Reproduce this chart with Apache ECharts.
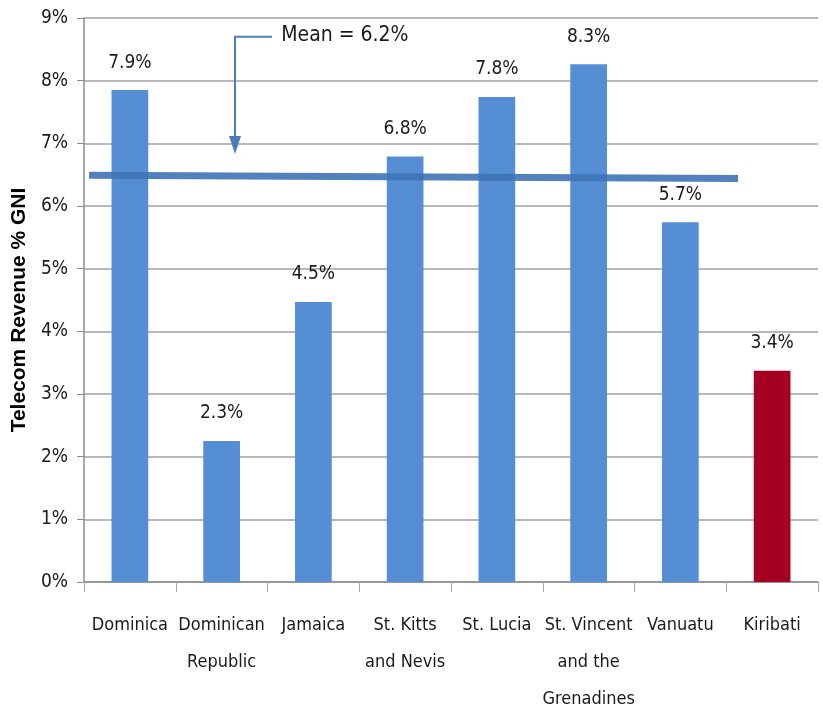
<!DOCTYPE html>
<html>
<head>
<meta charset="utf-8">
<script src="https://cdn.jsdelivr.net/npm/echarts@6/dist/echarts.min.js"></script>
<style>
html,body{margin:0;padding:0;background:#fff;}
#chart{width:823px;height:713px;}
</style>
</head>
<body>
<div id="chart"></div>
<script>
// ---- data ----
var categories = ['Dominica', 'Dominican\nRepublic', 'Jamaica', 'St. Kitts\nand Nevis', 'St. Lucia', 'St. Vincent\nand the\nGrenadines', 'Vanuatu', 'Kiribati'];
var values = [7.85, 2.25, 4.47, 6.79, 7.74, 8.26, 5.74, 3.37];
var valueLabels = ['7.9%', '2.3%', '4.5%', '6.8%', '7.8%', '8.3%', '5.7%', '3.4%'];
var barColors = ['#558ed5', '#558ed5', '#558ed5', '#558ed5', '#558ed5', '#558ed5', '#558ed5', '#a50021'];
// mean line ends, x in category-index units
var meanLine = [[-0.445, 6.49], [6.628, 6.44]];
var meanText = 'Mean = 6.2%';
var arrowPath = [[1.549, 8.70], [1.146, 8.70], [1.146, 6.83]];
var meanTextPos = [1.65, 8.72];
var yTicks = [0, 1, 2, 3, 4, 5, 6, 7, 8, 9];

var narrow = "'Liberation Sans Narrow', 'Arial Narrow', 'DejaVu Sans Condensed', sans-serif";
var chart = echarts.init(document.getElementById('chart'));

function catX(api, idx, v) {
  var p0 = api.coord([0, v]);
  var bw = api.size([1, 0])[0];
  return [p0[0] + idx * bw, p0[1]];
}

var option = {
  animation: false,
  grid: {left: 84, right: 5, top: 18, bottom: 131, containLabel: false, outerBoundsMode: 'none'},
  xAxis: {
    type: 'category',
    data: categories,
    axisLine: {lineStyle: {color: '#8c8c8c', width: 1.5}},
    axisTick: {show: true, length: 10, lineStyle: {color: '#a6a6a6', width: 1}},
    splitLine: {show: false},
    axisLabel: {color: '#1a1a1a', fontFamily: narrow, fontSize: 18, lineHeight: 37, margin: 25, interval: 0}
  },
  yAxis: {
    type: 'value',
    min: 0, max: 9, interval: 1,
    name: 'Telecom Revenue % GNI',
    nameLocation: 'middle',
    nameGap: 47,
    nameTextStyle: {fontFamily: "'Liberation Sans', Arial, sans-serif", fontWeight: 'bold', fontSize: 21, color: '#000', padding: [0, 0, 0, -20]},
    axisLine: {show: true, lineStyle: {color: '#8c8c8c', width: 1.5}},
    axisTick: {show: true, length: 7, lineStyle: {color: '#8c8c8c'}},
    axisLabel: {formatter: function (v) { return yTicks.indexOf(v) >= 0 ? v + '%' : ''; }, color: '#1a1a1a', fontFamily: narrow, fontSize: 19, margin: 16},
    splitLine: {lineStyle: {color: '#a0a0a0', width: 1.5}}
  },
  series: [{
    type: 'bar',
    data: values.map(function (v, i) { return {value: v, itemStyle: {color: barColors[i]}}; }),
    barWidth: '40%',
    label: {
      show: true, position: 'top', distance: 18,
      formatter: function (p) { return valueLabels[p.dataIndex]; },
      color: '#1a1a1a', fontFamily: narrow, fontSize: 19
    },
    z: 2
  }, {
    type: 'custom',
    data: [0],
    z: 3,
    silent: true,
    renderItem: function (params, api) {
      var pts = meanLine.map(function (d) { return catX(api, d[0], d[1]); });
      return {
        type: 'polyline',
        shape: {points: pts},
        style: {stroke: '#3f74b6', lineWidth: 7, opacity: 0.9, fill: null}
      };
    }
  }]
};
chart.setOption(option);

var c0 = chart.convertToPixel({xAxisIndex: 0, yAxisIndex: 0}, [0, 0]);
var c1 = chart.convertToPixel({xAxisIndex: 0, yAxisIndex: 0}, [1, 0]);
function px(p) {
  var y = chart.convertToPixel({yAxisIndex: 0}, p[1]);
  return [c0[0] + p[0] * (c1[0] - c0[0]), y];
}
var pts = arrowPath.map(px);
var tip = pts[pts.length - 1];
var tp = px(meanTextPos);
chart.setOption({
  graphic: [{
    type: 'polyline',
    shape: {points: pts.slice(0, 2).concat([[tip[0], tip[1] - 16]])},
    style: {stroke: '#4a7ebb', lineWidth: 2, fill: null},
    z: 10
  }, {
    type: 'polygon',
    shape: {points: [[tip[0] - 6, tip[1] - 18], [tip[0] + 6, tip[1] - 18], [tip[0], tip[1]]]},
    style: {fill: '#4a7ebb'},
    z: 10
  }, {
    type: 'text',
    x: tp[0], y: tp[1],
    style: {text: meanText, font: '21px ' + narrow, fill: '#1a1a1a', textVerticalAlign: 'middle', textAlign: 'left'},
    z: 10
  }]
});
</script>
</body>
</html>
